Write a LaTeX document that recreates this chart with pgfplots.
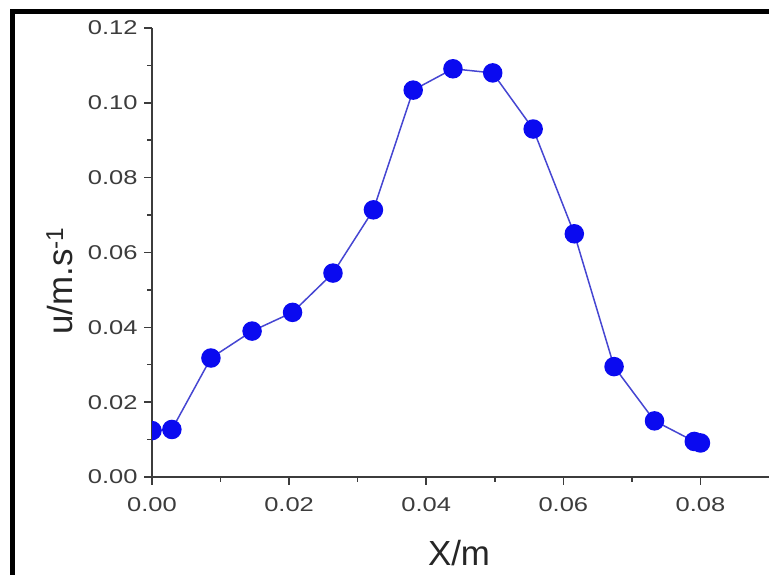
\documentclass[border=0pt]{standalone}
\usepackage{fontspec}
\setmainfont{Liberation Sans}
\newfontfamily\tickfont[FakeStretch=1.28]{Liberation Sans}
\usepackage{pgfplots}
\pgfplotsset{compat=1.18}
\definecolor{ptblue}{RGB}{10,10,240}
\definecolor{lnblue}{RGB}{70,70,210}
\definecolor{axgray}{RGB}{60,60,60}

\begin{document}
\begin{tikzpicture}
\useasboundingbox (0,0) rectangle (769bp,575bp);
%% outer frame (only top and left visible)
\draw[line width=5bp, black] (12bp,0) -- (12bp,563bp) -- (769bp,563bp);

\begin{axis}[
  at={(152bp,98bp)}, anchor=south west,
  scale only axis, width=617bp, height=449bp,
  xmin=0, xmax=0.09, ymin=0, ymax=0.12,
  axis lines*=left,
  axis line style={axgray, line width=1.5bp},
  xtick={0,0.02,0.04,0.06,0.08},
  ytick={0,0.02,0.04,0.06,0.08,0.10,0.12},
  minor tick num=1,
  tick align=outside,
  major tick length=8bp, minor tick length=5bp,
  tick style={axgray, line width=1.5bp},
  scaled ticks=false,
  /pgf/number format/assume math mode=true,
  xticklabel style={font=\tickfont\fontsize{20}{22}\selectfont, text=axgray,
    yshift=-9bp,
    /pgf/number format/.cd, fixed, fixed zerofill, precision=2},
  yticklabel style={font=\tickfont\fontsize{20}{22}\selectfont, text=axgray,
    xshift=-3bp,
    /pgf/number format/.cd, fixed, fixed zerofill, precision=2},
  clip marker paths=true,
]
  \addplot[color=lnblue, line width=1.5bp, mark=*, mark size=9bp,
           mark options={fill=ptblue, draw=ptblue}] coordinates {
    (0.0000,0.0124)(0.0029,0.0127)(0.0086,0.0318)(0.0146,0.0390)
    (0.0205,0.0440)(0.0264,0.0545)(0.0323,0.0714)(0.0381,0.1034)
    (0.0439,0.1091)(0.0497,0.1080)(0.0556,0.0930)(0.0616,0.0650)
    (0.0674,0.0295)(0.0733,0.0150)(0.0791,0.0095)(0.0800,0.0091)
  };
\end{axis}

\node[anchor=base, font=\fontsize{35}{40}\selectfont, text=black!85]
  at (459bp,10bp) {X/m};
\node[anchor=base, rotate=90, font=\fontsize{35}{40}\selectfont, text=black!85]
  at (72bp,294bp) {u/m.s\textsuperscript{-1}};
\end{tikzpicture}
\end{document}
